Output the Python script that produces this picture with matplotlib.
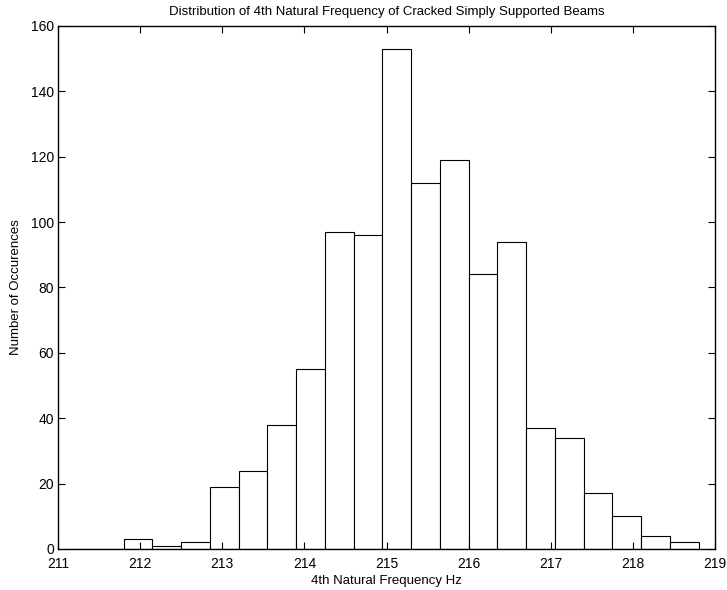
import numpy as np
import matplotlib.pyplot as plt

plt.rcParams['font.family'] = ['Liberation Sans', 'DejaVu Sans']

# histogram bins (Hz) and counts
bin_start = 211.1
bin_width = 0.35
counts = [0, 0, 3, 1, 2, 19, 24, 38, 55, 97, 96, 153, 112, 119,
          84, 94, 37, 34, 17, 10, 4, 2]
x_ticks = [211, 212, 213, 214, 215, 216, 217, 218, 219]
y_ticks = [0, 20, 40, 60, 80, 100, 120, 140, 160]

edges = bin_start + bin_width * np.arange(len(counts) + 1)

fig = plt.figure(figsize=(7.27, 5.9), dpi=100)
ax = fig.add_axes([0.0798, 0.0695, 0.9037, 0.8865])

ax.bar(edges[:-1], counts, width=np.diff(edges), align='edge',
       facecolor='white', edgecolor='black', linewidth=0.8)

ax.set_xlim(211, 219)
ax.set_ylim(0, 160)
ax.set_xticks(x_ticks)
ax.set_yticks(y_ticks)
ax.tick_params(direction='in', top=True, right=True, length=5, width=0.8,
               labelsize=10)
ax.tick_params(axis='x', pad=6)
ax.tick_params(axis='y', pad=3)
for s in ax.spines.values():
    s.set_linewidth(1.0)

ax.set_title("Distribution of 4th Natural Frequency of Cracked Simply Supported Beams",
             fontsize=9.5, pad=8)
ax.set_xlabel("4th Natural Frequency Hz", fontsize=9.5, labelpad=3)
ax.set_ylabel("Number of Occurences", fontsize=9.5, labelpad=6)

fig.savefig("out.png", dpi=100)
